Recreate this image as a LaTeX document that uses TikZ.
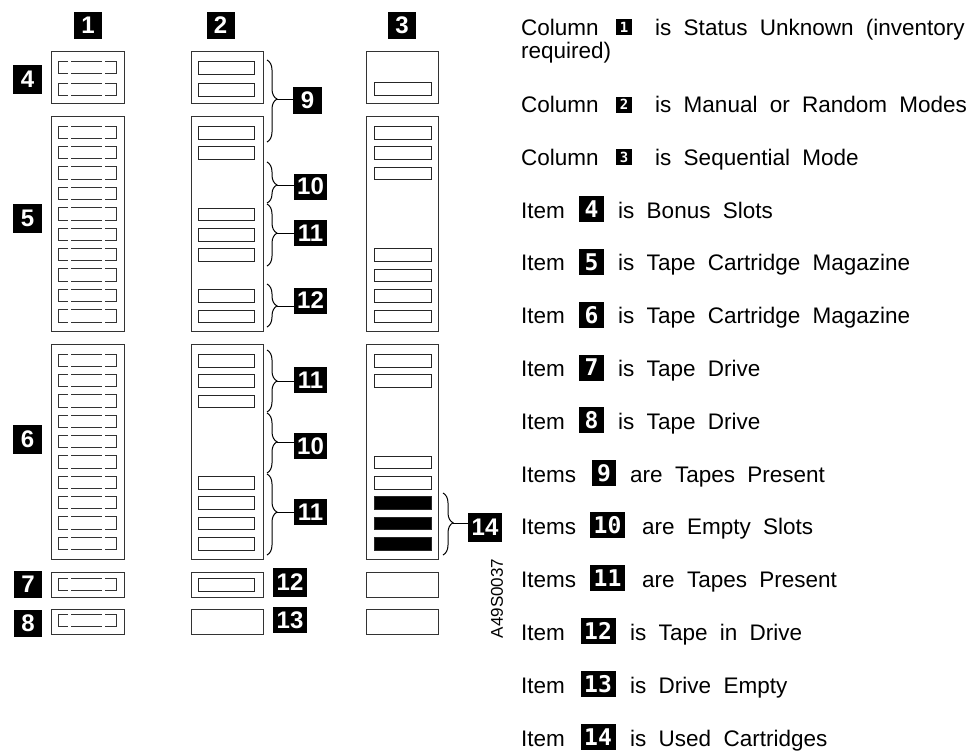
\documentclass[tikz,border=0pt]{standalone}
\usepackage{fontspec}
\setmainfont{Liberation Sans}
\newfontfamily\monob{DejaVu Sans Mono}
\usetikzlibrary{decorations.pathreplacing}
\newcommand\legfont{\fontsize{22.5}{24}\selectfont\spaceskip 12.3pt\relax}
\tikzset{
 frame/.style={draw=black!80, line width=1.2pt, inner sep=0pt, anchor=north west},
 slotA/.style={draw=black!85, line width=1pt, inner sep=0pt, anchor=north west, minimum width=56pt, minimum height=12.5pt},
 slotF/.style={slotA, fill=black},
 dbadge/.style={fill=black, text=white, inner sep=0pt, font=\fontsize{24}{24}\selectfont\bfseries, minimum width=28pt, minimum height=27pt},
 dbadgew/.style={dbadge, minimum width=33pt, minimum height=26pt},
 lbadge/.style={fill=black, text=white, inner sep=0pt, font=\monob\bfseries\fontsize{23}{23}\selectfont, minimum width=25pt, minimum height=26pt},
 lbadgew/.style={lbadge, minimum width=35pt},
 cbadge/.style={lbadge, font=\monob\bfseries\fontsize{14}{14}\selectfont, minimum width=16pt, minimum height=16pt},
 legend/.style={anchor=base west, inner sep=0pt, font=\legfont},
 bracepath/.style={decorate, decoration={brace, amplitude=10pt, aspect=#1}, line width=1pt},
 lead/.style={line width=1pt},
 brokenslot/.pic={
  \draw[line width=1pt, draw=black!80] (10,0) -- (0,0) -- (0,12.5) -- (10,12.5);
  \draw[line width=1pt, draw=black!80] (13,0) -- (44,0) (13,12.5) -- (44,12.5);
  \draw[line width=1pt, draw=black!80] (47,0) -- (58,0) -- (58,12.5) -- (47,12.5);
 }
}
\begin{document}
\begin{tikzpicture}[x=1pt,y=-1pt]
\useasboundingbox (0,0) rectangle (976,753);
% column headers
\node[dbadge] (h1) at (88,25.5) {1};
\node[dbadge] (h2) at (220.5,25.5) {2};
\node[dbadge] (h3) at (402,25.5) {3};
% frames column 1
\node[frame, minimum width=73pt, minimum height=52pt] (c1bonus) at (51,51) {};
\node[frame, minimum width=73pt, minimum height=215pt] (c1mag1) at (51,116) {};
\node[frame, minimum width=73pt, minimum height=215pt] (c1mag2) at (51,344) {};
\node[frame, minimum width=73pt, minimum height=25pt] (c1drv1) at (51,572) {};
\node[frame, minimum width=73pt, minimum height=25pt] (c1drv2) at (51,609) {};
% frames column 2
\node[frame, minimum width=72pt, minimum height=52pt] (c2bonus) at (191,51) {};
\node[frame, minimum width=72pt, minimum height=215pt] (c2mag1) at (191,116) {};
\node[frame, minimum width=72pt, minimum height=215pt] (c2mag2) at (191,344) {};
\node[frame, minimum width=72pt, minimum height=25pt] (c2drv1) at (191,572) {};
\node[frame, minimum width=72pt, minimum height=25pt] (c2drv2) at (191,609) {};
% frames column 3
\node[frame, minimum width=72pt, minimum height=52pt] (c3bonus) at (366,51) {};
\node[frame, minimum width=72pt, minimum height=215pt] (c3mag1) at (366,116) {};
\node[frame, minimum width=72pt, minimum height=215pt] (c3mag2) at (366,344) {};
\node[frame, minimum width=72pt, minimum height=25pt] (c3drv1) at (366,572) {};
\node[frame, minimum width=72pt, minimum height=25pt] (c3drv2) at (366,609) {};
% column 1 slots (status unknown)
\pic (c1b0) at (58,61) {brokenslot};
\pic (c1b1) at (58,83) {brokenslot};
\foreach \i in {0,...,9} {
  \pic (c1ma\i) at (58,{126+20.4*\i}) {brokenslot};
  \pic (c1mb\i) at (58,{354+20.35*\i}) {brokenslot};
}
\pic (c1d1) at (58,578) {brokenslot};
\pic (c1d2) at (58,614) {brokenslot};
% column 2 slots
\node[slotA] (c2b0) at (198,61) {};
\node[slotA] (c2b1) at (198,83) {};
\foreach \i in {0,1,4,5,6,8,9} \node[slotA] (c2ma\i) at (198,{126+20.4*\i}) {};
\foreach \i in {0,1,2,6,7,8,9} \node[slotA] (c2mb\i) at (198,{354+20.35*\i}) {};
\node[slotA, minimum height=13pt] (c2d1) at (198,578) {};
% column 3 slots
\node[slotA, minimum width=57pt] (c3b1) at (374,82) {};
\foreach \i in {0,1,2,6,7,8,9} \node[slotA, minimum width=57pt] (c3ma\i) at (374,{126+20.4*\i}) {};
\foreach \i in {0,1,5,6} \node[slotA, minimum width=57pt] (c3mb\i) at (374,{354+20.35*\i}) {};
\foreach \i in {7,8,9} \node[slotF, minimum width=57pt] (c3mb\i) at (374,{354+20.35*\i}) {};
% side badges column 1
\node[dbadge, minimum width=29pt, minimum height=29pt] (b4) at (27.5,79.5) {4};
\node[dbadge, minimum width=29pt, minimum height=29pt] (b5) at (27.5,218.5) {5};
\node[dbadge, minimum width=29pt, minimum height=29pt] (b6) at (27.5,439.5) {6};
\node[dbadge] (b7) at (28,584.5) {7};
\node[dbadge] (b8) at (28,623) {8};
% braces column 2
\coordinate (t9) at (277,99);
\coordinate (t10a) at (277,185);
\coordinate (t11a) at (277,233);
\coordinate (t12a) at (277,306);
\coordinate (t11b) at (277,381);
\coordinate (t10b) at (277,442);
\coordinate (t11c) at (277,512);
\coordinate (t14) at (453,523);
\draw[bracepath=0.476] (267,60) -- (267,142);
\draw[bracepath=0.56] (267,162) -- (267,203);
\draw[bracepath=0.47] (267,204) -- (267,266);
\draw[bracepath=0.51] (267,284) -- (267,327);
\draw[bracepath=0.5] (267,350) -- (267,412);
\draw[bracepath=0.48] (267,413) -- (267,473);
\draw[bracepath=0.47] (267,474) -- (267,555);
\draw[bracepath=0.48] (443,493) -- (443,555);
\node[dbadge, minimum width=29pt] (b9) at (307.5,100.5) {9};
\node[dbadgew] (b10a) at (310.5,186.5) {10};
\node[dbadgew] (b11a) at (310.5,233) {11};
\node[dbadgew] (b12a) at (310.5,300.5) {12};
\node[dbadgew] (b11b) at (310.5,380) {11};
\node[dbadgew] (b10b) at (310.5,446) {10};
\node[dbadgew] (b11c) at (310.5,512) {11};
\node[dbadgew, minimum width=34pt, minimum height=29pt] (b14) at (485,527.5) {14};
\draw[lead] (t9) -- (t9 -| b9.west);
\draw[lead] (t10a) -- (t10a -| b10a.west);
\draw[lead] (t11a) -- (t11a -| b11a.west);
\draw[lead] (t12a) -- (t12a -| b12a.west);
\draw[lead] (t11b) -- (t11b -| b11b.west);
\draw[lead] (t10b) -- (t10b -| b10b.west);
\draw[lead] (t11c) -- (t11c -| b11c.west);
\draw[lead] (t14) -- (t14 -| b14.west);
% drive badges
\node[dbadgew, minimum width=34pt, minimum height=29pt] (b12d) at (290,582.5) {12};
\node[dbadgew, minimum width=34pt, minimum height=26pt] (b13) at (290,620) {13};
% figure code
\node[rotate=90, inner sep=0pt, font=\fontsize{17}{17}\selectfont] (code) at (497,598.5) {A49S0037};
% legend
\node[legend] (l1a) at (521,35) {Column};
\node[cbadge] (l1b) at (624,27) {1};
\node[legend] (l1c) at (655,35) {is Status Unknown (inventory};
\node[legend] (l1d) at (521,58) {required)};
\node[legend] (l2a) at (521,112.5) {Column};
\node[cbadge] (l2b) at (624,104.5) {2};
\node[legend] (l2c) at (655,112.5) {is Manual or Random Modes};
\node[legend] (l3a) at (521,165.3) {Column};
\node[cbadge] (l3b) at (624,157.3) {3};
\node[legend] (l3c) at (655,165.3) {is Sequential Mode};
\node[legend] (l4a) at (521,218.1) {Item};
\node[lbadge] (l4b) at (591.5,209.1) {4};
\node[legend] (l4c) at (618,218.1) {is Bonus Slots};
\node[legend] (l5a) at (521,270.9) {Item};
\node[lbadge] (l5b) at (591.5,261.9) {5};
\node[legend] (l5c) at (618,270.9) {is Tape Cartridge Magazine};
\node[legend] (l6a) at (521,323.7) {Item};
\node[lbadge] (l6b) at (591.5,314.7) {6};
\node[legend] (l6c) at (618,323.7) {is Tape Cartridge Magazine};
\node[legend] (l7a) at (521,376.5) {Item};
\node[lbadge] (l7b) at (591.5,367.5) {7};
\node[legend] (l7c) at (618,376.5) {is Tape Drive};
\node[legend] (l8a) at (521,429.3) {Item};
\node[lbadge] (l8b) at (591.5,420.3) {8};
\node[legend] (l8c) at (618,429.3) {is Tape Drive};
\node[legend] (l9a) at (521,482) {Items};
\node[lbadge, minimum width=24pt] (l9b) at (604,473.3) {9};
\node[legend] (l9c) at (630,482) {are Tapes Present};
\node[legend] (l10a) at (521,534.3) {Items};
\node[lbadgew] (l10b) at (607.5,524.8) {10};
\node[legend] (l10c) at (642,534.3) {are Empty Slots};
\node[legend] (l11a) at (521,587.3) {Items};
\node[lbadgew] (l11b) at (607.5,578.3) {11};
\node[legend] (l11c) at (642,587.3) {are Tapes Present};
\node[legend] (l12a) at (521,640.3) {Item};
\node[lbadgew] (l12b) at (598,631.3) {12};
\node[legend] (l12c) at (630,640.3) {is Tape in Drive};
\node[legend] (l13a) at (521,693.2) {Item};
\node[lbadgew] (l13b) at (598,684.2) {13};
\node[legend] (l13c) at (630,693.2) {is Drive Empty};
\node[legend] (l14a) at (521,746) {Item};
\node[lbadgew] (l14b) at (598,737) {14};
\node[legend] (l14c) at (630,746) {is Used Cartridges};
\end{tikzpicture}
\end{document}
